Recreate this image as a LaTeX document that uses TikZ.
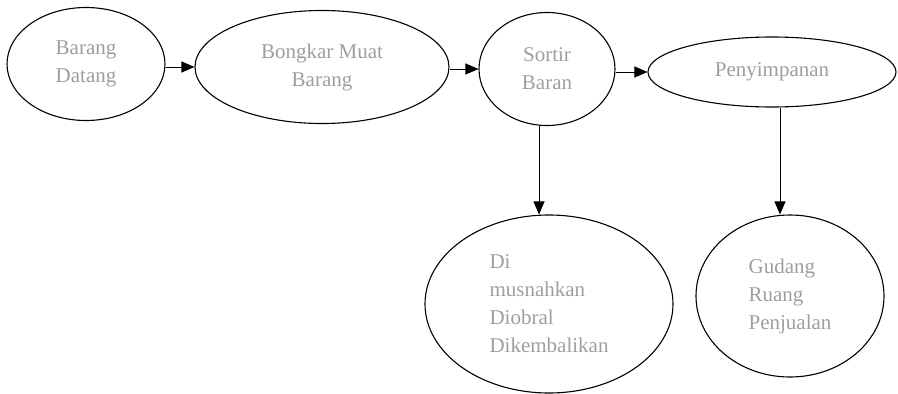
\documentclass[tikz,border=0pt]{standalone}
\usepackage{fontspec}
\setmainfont{Liberation Serif}
\usetikzlibrary{arrows.meta,shapes.geometric}

\tikzset{
  proc/.style={ellipse, draw=black, line width=1.1pt, inner sep=0pt,
    font=\fontsize{21}{28}\selectfont, text=black!38},
  flow/.style={draw=black, line width=1pt,
    -{Triangle[length=13pt,width=11pt]}}
}

\begin{document}
\begin{tikzpicture}[x=1pt,y=-1pt]
  \useasboundingbox (0,0) rectangle (898,394);

  % main line of the process
  \node[proc, minimum width=158pt, minimum height=113pt, align=center]
    (datang) at (86,64) {Barang\\Datang};
  \node[proc, minimum width=254pt, minimum height=113pt, align=center]
    (bongkar) at (322,67) {Bongkar Muat\\Barang};
  \node[proc, minimum width=136pt, minimum height=113pt, align=center]
    (sortir) at (547,69) {Sortir\\Baran};
  \node[proc, minimum width=248pt, minimum height=70pt, align=center]
    (simpan) at (772,72) {Penyimpanan};

  % outcomes
  \node[proc, minimum width=248pt, minimum height=178pt, align=left]
    (musnah) at (549,304) {Di\\musnahkan\\Diobral\\Dikembalikan};
  \node[proc, minimum width=188pt, minimum height=162pt, align=left]
    (gudang) at (790,296) {Gudang\\Ruang\\Penjualan};

  % connectors (horizontal ones run at the height of the target's centre)
  \draw[flow] (datang.east |- bongkar.west) -- (bongkar.west);
  \draw[flow] (bongkar.east |- sortir.west) -- (sortir.west);
  \draw[flow] (sortir.east |- simpan.west) -- (simpan.west);
  \draw[flow] ([xshift=-8pt]sortir.south) -- ([xshift=-8pt]sortir.south |- musnah.north);
  \draw[flow] ([xshift=8pt]simpan.south) -- ([xshift=8pt]simpan.south |- gudang.north);
\end{tikzpicture}
\end{document}
